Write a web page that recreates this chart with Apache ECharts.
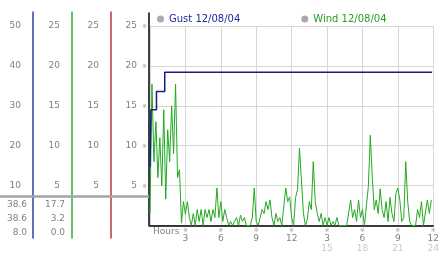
<!DOCTYPE html>
<html><head><meta charset="utf-8">
<script src="https://cdn.jsdelivr.net/npm/echarts@6/dist/echarts.min.js"></script>
<style>html,body{margin:0;padding:0;background:#fff}#c{width:442px;height:253px}</style>
</head><body><div id="c"></div>
<script>
// ---- data ----
const hourTicks = [3, 6, 9, 12, 15, 18, 21, 24];
const hourLabels = ['3', '6', '9', '12', '3', '6', '9', '12'];
const hourLabels2 = ['', '', '', '', '15', '18', '21', '24'];
const knotTicks = [5, 10, 15, 20, 25];
const kmhTicks = [10, 20, 30, 40, 50];
const gustHours = [0, 0.08, 0.55, 1.25, 23.9];
const gustValues = [7.3, 14.5, 16.8, 19.2, 19.2];
const windStepHours = 1 / 6; // one reading every 10 minutes
const windValues = [
  1.5,17.7,8,13,6,11,5,14.5,3.3,12,
  8,15,9,17.7,6,7,0.3,3,1.4,3,
  1,0,1.5,0,2,0.5,2,0,2,1,
  2,0.5,2,1,4.7,1,3,0.5,2,1,
  0,0.5,0,0,1,0,1.3,0.5,1,0,
  0,0,1,4.7,0.5,0,1,2,1.5,3,
  2,3.2,1,0,1.5,0.5,1,0,0,4.7,
  3,3.6,1,0,3.5,4.5,9.7,9.7,1.5,0,
  0.8,3,2,8,3,1.5,0.5,1.5,0,1,
  0,1,0,0.5,0,1,0,0,0,0,
  0,0,3.2,1,2,0.5,3.2,1,2,0,
  0,4.9,11.3,6,2,3.2,1.5,4.6,2,1,
  3,0.5,3.5,1.5,0.5,4,4.7,3.2,0.5,1,
  8,3,0.5,0,0,0,2,1,3,0,
  0,3.2,1.5,3.2
];
const gustStats = ['38.6', '38.6', '8.0'];
const windStats = ['17.7', '3.2', '0.0'];
const gustName = 'Gust 12/08/04';
const windName = 'Wind 12/08/04';

// ---- chart ----
const FONT = 'DejaVu Sans';
const GREY = '#808080';
const chart = echarts.init(document.getElementById('c'), null, {renderer: 'canvas'});

const gustData = gustHours.map((h, i) => [h, gustValues[i]]);
const windData = windValues.map((v, i) => [i * windStepHours, v]);

function sideAxis(grid, offset, min, max, ticks, color) {
  return {
    type: 'value', gridIndex: grid, position: 'left', offset: offset,
    min: min, max: max,
    axisLine: {show: true, onZero: false, lineStyle: {color: color, width: 1.5}},
    axisTick: {show: false},
    splitLine: {show: false},
    axisLabel: {show: true, customValues: ticks, margin: 12, color: GREY,
      fontFamily: FONT, fontSize: 9}
  };
}

const statTexts = [];
[gustStats, windStats].forEach((arr, c) => {
  arr.forEach((t, r) => {
    statTexts.push({
      type: 'text', x: c === 0 ? 27 : 65, y: [205, 219, 233][r],
      style: {text: t, align: 'right', verticalAlign: 'middle', fill: GREY,
        font: '9px ' + FONT}
    });
  });
});

chart.setOption({
  animation: false,
  backgroundColor: '#fff',
  grid: [
    {left: 150, right: 5, top: 26, height: 200},
    {left: 149, top: 12, width: 10, height: 226},
    {left: 149, top: 13, width: 10, height: 213}
  ],
  legend: {
    left: 157, top: 14, itemWidth: 7, itemHeight: 7, itemGap: 61, itemTextGap: 3,
    selectedMode: false, padding: 0,
    textStyle: {fontFamily: FONT, fontSize: 10},
    data: [
      {name: gustName, icon: 'circle', itemStyle: {color: '#aaaaaa'}, textStyle: {color: '#1c2a9c'}},
      {name: windName, icon: 'circle', itemStyle: {color: '#aaaaaa'}, textStyle: {color: '#22a022'}}
    ]
  },
  xAxis: [
    {
      type: 'value', gridIndex: 0, min: 0, max: 24, interval: 3,
      axisLine: {onZero: false, lineStyle: {color: '#000', width: 1.5}},
      axisTick: {show: false},
      splitLine: {show: true, lineStyle: {color: '#d6d6d6', width: 1}},
      axisLabel: {
        margin: 2, interval: 0, showMinLabel: true, showMaxLabel: true,
        formatter: function (v) {
          const k = hourTicks.indexOf(v);
          if (k < 0) return '';
          let s = '{m|※}\n{n|' + hourLabels[k] + '}';
          if (hourLabels2[k]) s += '\n{l|' + hourLabels2[k] + '}';
          return s;
        },
        rich: {
          m: {fontSize: 6, lineHeight: 6, color: '#999', fontFamily: FONT},
          n: {fontSize: 9, lineHeight: 10, color: GREY, fontFamily: FONT},
          l: {fontSize: 9, lineHeight: 10, color: '#c8c8c8', fontFamily: FONT}
        }
      }
    },
    {type: 'value', gridIndex: 1, show: false},
    {type: 'value', gridIndex: 2, show: false}
  ],
  yAxis: [
    {
      type: 'value', gridIndex: 0, min: 0, max: 25, interval: 5,
      axisLine: {show: false}, axisTick: {show: false}, axisLabel: {show: false},
      splitLine: {show: true, lineStyle: {color: '#d6d6d6', width: 1}}
    },
    sideAxis(1, 38, -1.5, 26.75, knotTicks, '#b83838'),
    sideAxis(1, 77, -1.5, 26.75, knotTicks, '#38a838'),
    sideAxis(1, 116, -3, 53.5, kmhTicks, '#2a46a0'),
    {
      type: 'value', gridIndex: 2, position: 'left', min: 0, max: 26.625,
      axisLine: {show: true, onZero: false, lineStyle: {color: '#000', width: 1.5}},
      axisTick: {show: false}, splitLine: {show: false},
      axisLabel: {
        show: true, customValues: knotTicks, margin: 2,
        formatter: v => '{v|' + v + '}{m|※}',
        rich: {
          v: {fontSize: 9, color: GREY, fontFamily: FONT},
          m: {fontSize: 6, color: '#999', fontFamily: FONT, padding: [0, 0, 0, 5]}
        }
      }
    }
  ],
  graphic: [
    {type: 'line', shape: {x1: 0, y1: 196.5, x2: 149, y2: 196.5},
      style: {stroke: '#a4a4a4', lineWidth: 2.5}, z: 1},
    {type: 'text', x: 153, y: 231.5,
      style: {text: 'Hours', verticalAlign: 'middle', fill: GREY, font: '9px ' + FONT}}
  ].concat(statTexts),
  series: [
    {
      name: gustName, type: 'line', xAxisIndex: 0, yAxisIndex: 0, z: 3,
      step: 'end', symbol: 'none', data: gustData,
      lineStyle: {color: '#1a1a8a', width: 1.5}, itemStyle: {color: '#1a1a8a'}
    },
    {
      name: windName, type: 'line', xAxisIndex: 0, yAxisIndex: 0, z: 2,
      symbol: 'none', data: windData,
      lineStyle: {color: '#22aa22', width: 1}, itemStyle: {color: '#22aa22'}
    }
  ]
});
</script></body></html>
